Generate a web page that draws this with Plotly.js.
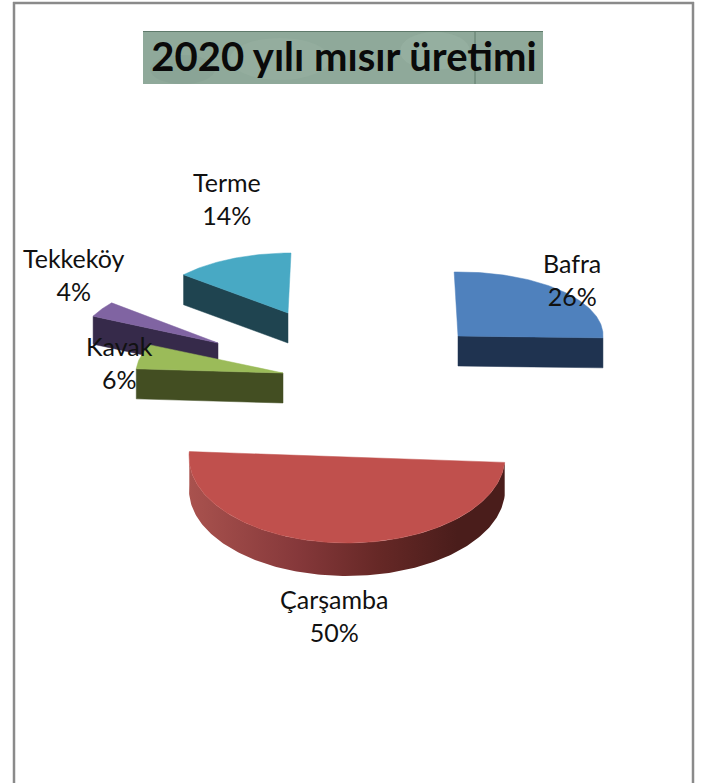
<!DOCTYPE html>
<html>
<head>
<meta charset="utf-8">
<script src="https://cdn.plot.ly/plotly-3.0.1.min.js"></script>
<style>html,body{margin:0;padding:0;background:#fff;overflow:hidden}#chart{width:705px;height:783px}</style>
</head>
<body>
<div id="chart"></div>
<script>
// ---- data ----
const titleText = "2020 yılı mısır üretimi";
const categories = ["Bafra", "Çarşamba", "Kavak", "Tekkeköy", "Terme"];
const shares = [26, 50, 6, 4, 14];

// ---- styling / placement (exploded 3D pie projection, no data here) ----
const topColors = ["#4f81bd", "#c0504d", "#9bbb59", "#8064a2", "#48a9c4"];
const sideColors = ["#1f3350", "#7a3230", "#434e22", "#362a4a", "#1f4450"];
const startAngle = 0;
const placement = [
  {cx:458, cy:336, rx:145, ry:64, mx:0.06,  k:-0.015, depth:30},
  {cx:347, cy:457, rx:158, ry:86, mx:0,     k:0,      depth:33},
  {cx:283, cy:373, rx:147, ry:66, mx:0,     k:0,      depth:30},
  {cx:218, cy:343, rx:138, ry:63, mx:0,     k:0,      depth:28},
  {cx:288, cy:313, rx:138, ry:60, mx:-0.05, k:0,      depth:30}
];
const labelPos = [[572,279],[334,615],[119,362],[74,274],[227,198]];
const drawOrder = [4,3,2,0,1];

const rad = d => d*Math.PI/180;
const total = shares.reduce((a,b)=>a+b,0);
let acc = startAngle;
const spans = shares.map(v => { const s=acc; acc += v/total*360; return [s,acc]; });

function project(p, deg){
  const t = rad(deg);
  const s = Math.sin(t), c = Math.cos(t);
  return [p.cx + p.rx*s - p.mx*p.ry*c, p.cy - p.ry*c + p.k*p.rx*s];
}
function arc(p, a, b){
  const pts=[]; const n=Math.max(2,Math.ceil(Math.abs(b-a)));
  for(let i=0;i<=n;i++) pts.push(project(p, a+(b-a)*i/n));
  return pts;
}
function poly(pts, color, extra){
  return Object.assign({
    type:"scatter", mode:"lines", x:pts.map(q=>q[0]), y:pts.map(q=>q[1]),
    fill:"toself", fillcolor:color, line:{width:0.5,color:color},
    hoverinfo:"skip", showlegend:false
  }, extra||{});
}

const traces=[];
drawOrder.forEach(i=>{
  const p=placement[i], [a,b]=spans[i];
  const down = q=>[q[0],q[1]+p.depth];
  const apex=[p.cx,p.cy];
  if(categories[i]==="Çarşamba"){
    const outer=arc(p,a,b);
    const side=outer.concat(outer.slice().reverse().map(down));
    traces.push(poly(side,"#7a3230",{
      line:{width:0},
      fillgradient:{type:"horizontal",colorscale:[[0,"#a9524e"],[0.35,"#85383a"],[0.6,"#662826"],[0.85,"#4a1d1b"],[1,"#4a1d1b"]]}
    }));
  } else {
    // radial wall facing the viewer
    const wallAngle = categories[i]==="Bafra" ? b : a;
    const e=project(p,wallAngle);
    traces.push(poly([apex,e,down(e),down(apex),apex],sideColors[i]));
  }
  traces.push(poly([apex].concat(arc(p,a,b)).concat([apex]),topColors[i]));
});

const annotations = categories.map((c,i)=>({
  x:labelPos[i][0], y:labelPos[i][1], xref:"x", yref:"y",
  text:c+"<br>"+shares[i]+"%", showarrow:false, xanchor:"center", yanchor:"middle",
  align:"center", font:{family:"Lato, Carlito, sans-serif", size:25, color:"#111"}
}));

const frame = {color:"#8a8a8a", width:2.5};
const shapes = [
  {type:"line",x0:14,x1:14,y0:2,y1:783,line:frame,layer:"below"},
  {type:"line",x0:693,x1:693,y0:2,y1:783,line:frame,layer:"below"},
  {type:"line",x0:13,x1:694,y0:3,y1:3,line:frame,layer:"below"},
  {type:"rect",x0:143,x1:543,y0:31,y1:84,fillcolor:"#8fa99a",line:{width:0},layer:"below"},
  {type:"rect",x0:143,x1:543,y0:31,y1:32,fillcolor:"#5f7a6b",line:{width:0},layer:"below"},
  {type:"circle",x0:230,x1:330,y0:38,y1:80,fillcolor:"rgba(170,195,180,0.18)",line:{width:0},layer:"below"},
  {type:"circle",x0:400,x1:470,y0:32,y1:70,fillcolor:"rgba(175,200,185,0.2)",line:{width:0},layer:"below"},
  {type:"circle",x0:150,x1:215,y0:55,y1:84,fillcolor:"rgba(110,135,120,0.12)",line:{width:0},layer:"below"},
  {type:"line",x0:475,x1:475,y0:31,y1:84,line:{color:"#5f7a6b",width:1},layer:"below"}
];

Plotly.newPlot("chart", traces, {
  width:705, height:783, margin:{l:0,r:0,t:0,b:0},
  paper_bgcolor:"#fff", plot_bgcolor:"#fff", showlegend:false,
  title:{text:titleText, x:344/705, xref:"paper", xanchor:"center", y:1-57/783, yref:"paper", yanchor:"middle",
    font:{family:"Lato, Carlito, sans-serif", size:40, color:"#0a0a0a", weight:"bold", shadow:"none"}},
  xaxis:{range:[0,705],visible:false,fixedrange:true},
  yaxis:{range:[783,0],visible:false,fixedrange:true},
  shapes:shapes, annotations:annotations
},{displayModeBar:false,staticPlot:true});
</script>
</body>
</html>
